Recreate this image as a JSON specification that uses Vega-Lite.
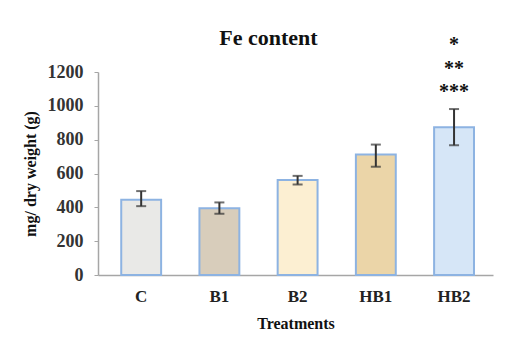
{
  "$schema": "https://vega.github.io/schema/vega-lite/v6.json",
  "width": 395,
  "height": 203,
  "autosize": {"type": "none"},
  "padding": {"left": 98, "top": 72, "right": 29, "bottom": 76},
  "background": "white",
  "config": {
    "view": {"stroke": null},
    "axisY": {
      "format": "d",
      "labelOverlap": false,
      "grid": false,
      "labelFont": "Liberation Serif",
      "labelFontSize": 18,
      "labelFontWeight": "bold",
      "labelColor": "#333",
      "labelPadding": 11,
      "tickSize": 4,
      "tickColor": "#a6a6a6",
      "domainColor": "#a6a6a6",
      "domainWidth": 1.5,
      "titleFont": "Liberation Serif",
      "titleFontSize": 16,
      "titleFontWeight": "bold",
      "titleColor": "#111",
      "titlePadding": 9
    }
  },
  "title": {
    "text": "Fe content",
    "font": "Liberation Serif",
    "fontSize": 22,
    "fontWeight": "bold",
    "color": "#111",
    "anchor": "middle",
    "dx": -27,
    "offset": -15
  },
  "data": {
    "values": [
      {"t": "C", "mean": 445, "lo": 407, "hi": 496},
      {"t": "B1", "mean": 395, "lo": 362, "hi": 429},
      {"t": "B2", "mean": 562, "lo": 535, "hi": 586},
      {"t": "HB1", "mean": 712, "lo": 640, "hi": 771},
      {"t": "HB2", "mean": 873, "lo": 767, "hi": 981}
    ]
  },
  "encoding": {
    "x": {
      "field": "t",
      "type": "nominal",
      "sort": null,
      "scale": {"paddingInner": 0.49, "paddingOuter": 0.27, "align": 0.55},
      "axis": {
        "title": "Treatments",
        "labelAngle": 0,
        "labelFont": "Liberation Serif",
        "labelFontSize": 17,
        "labelFontWeight": "bold",
        "labelColor": "#222",
        "labelPadding": 13,
        "ticks": false,
        "domainColor": "#a6a6a6",
        "domainWidth": 1.5,
        "titleFont": "Liberation Serif",
        "titleFontSize": 16,
        "titleFontWeight": "bold",
        "titleColor": "#111",
        "titlePadding": 11
      }
    }
  },
  "layer": [
    {
      "mark": {"type": "bar", "stroke": "#8db3e2", "strokeWidth": 2},
      "encoding": {
        "y": {
          "field": "mean",
          "type": "quantitative",
          "scale": {"domain": [0, 1200]},
          "axis": {"title": "mg/ dry weight (g)", "values": [0, 200, 400, 600, 800, 1000, 1200]}
        },
        "color": {
          "field": "t",
          "type": "nominal",
          "sort": null,
          "scale": {"domain": ["C", "B1", "B2", "HB1", "HB2"], "range": ["#e9e9e7", "#d8cdbb", "#fcefd2", "#ebd5a8", "#d6e6f7"]},
          "legend": null
        }
      }
    },
    {
      "mark": {"type": "rule", "color": "#333", "strokeWidth": 2},
      "encoding": {
        "y": {"field": "lo", "type": "quantitative", "axis": {"title": "mg/ dry weight (g)", "values": [0, 200, 400, 600, 800, 1000, 1200]}},
        "y2": {"field": "hi"}
      }
    },
    {
      "mark": {"type": "tick", "color": "#333", "thickness": 2, "size": 10},
      "encoding": {"y": {"field": "lo", "type": "quantitative", "axis": {"title": "mg/ dry weight (g)", "values": [0, 200, 400, 600, 800, 1000, 1200]}}}
    },
    {
      "mark": {"type": "tick", "color": "#333", "thickness": 2, "size": 10},
      "encoding": {"y": {"field": "hi", "type": "quantitative", "axis": {"title": "mg/ dry weight (g)", "values": [0, 200, 400, 600, 800, 1000, 1200]}}}
    },
    {
      "data": {
        "values": [
          {"t": "HB2", "s": "*", "v": 1357},
          {"t": "HB2", "s": "**", "v": 1217},
          {"t": "HB2", "s": "***", "v": 1080}
        ]
      },
      "mark": {"type": "text", "font": "Liberation Serif", "fontSize": 20, "fontWeight": "bold", "color": "#111", "baseline": "middle"},
      "encoding": {
        "y": {"field": "v", "type": "quantitative", "axis": {"title": "mg/ dry weight (g)", "values": [0, 200, 400, 600, 800, 1000, 1200]}},
        "text": {"field": "s"}
      }
    }
  ]
}
